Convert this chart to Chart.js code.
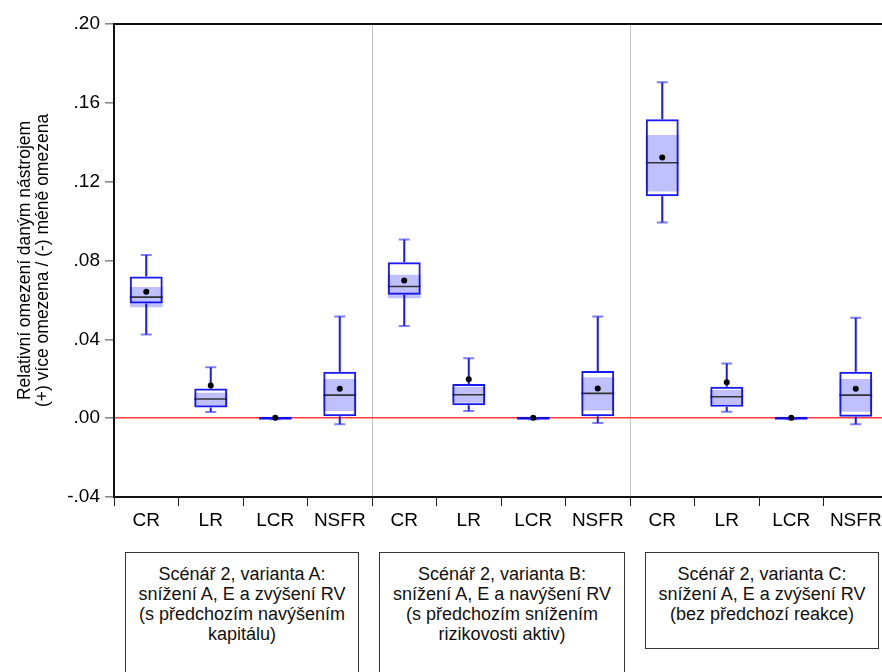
<!DOCTYPE html>
<html>
<head>
<meta charset="utf-8">
<script src="https://cdn.jsdelivr.net/npm/chart.js@4/dist/chart.umd.min.js"></script>
<style>
    html, body { margin: 0; padding: 0; background: #fff; }
    #wrap { position: relative; width: 882px; height: 672px; overflow: hidden; }
    #boxChart { position: absolute; left: 0; top: 0; }
    .note {
        position: absolute; top: 552px; box-sizing: border-box;
        border: 1px solid #333; background: #fff;
        font-family: 'Liberation Sans', Arial, sans-serif; font-size: 18px;
        line-height: 20px; text-align: center; color: #111; padding-top: 11px;
    }
</style>
</head>
<body>
<div id="wrap">
    <canvas id="boxChart" width="900" height="672"></canvas>
    <div class="note" style="left:125px; width:234px; height:140px;">Scénář 2, varianta A:<br>snížení A, E a zvýšení RV<br>(s předchozím navýšením<br>kapitálu)</div>
    <div class="note" style="left:379px; width:246px; height:140px;">Scénář 2, varianta B:<br>snížení A, E a navýšení RV<br>(s předchozím snížením<br>rizikovosti aktiv)</div>
    <div class="note" style="left:645px; width:234px; height:97px;">Scénář 2, varianta C:<br>snížení A, E a zvýšení RV<br>(bez předchozí reakce)</div>
</div>
<script>
const categories = ['CR', 'LR', 'LCR', 'NSFR', 'CR', 'LR', 'LCR', 'NSFR', 'CR', 'LR', 'LCR', 'NSFR'];

// box plot statistics
const whiskerLow  = [0.0424, 0.0031, -0.0006, -0.0031, 0.0468, 0.0036, -0.0006, -0.0024, 0.0993, 0.0032, -0.0006, -0.0031];
const quart1      = [0.0582, 0.0054, -0.0005, 0.0010, 0.0626, 0.0065, -0.0005, 0.0010, 0.1126, 0.0058, -0.0005, 0.0007];
const medians     = [0.0614, 0.0097, -0.0003, 0.0117, 0.0668, 0.0119, -0.0003, 0.0126, 0.1296, 0.0109, -0.0003, 0.0117];
const quart3      = [0.0719, 0.0151, 0.0000, 0.0236, 0.0791, 0.0173, 0.0000, 0.0239, 0.1517, 0.0159, 0.0000, 0.0236];
const whiskerHigh = [0.0828, 0.0258, 0.0001, 0.0516, 0.0906, 0.0304, 0.0001, 0.0516, 0.1704, 0.0278, 0.0001, 0.0509];
const means       = [0.0641, 0.0166, 0.0002, 0.0149, 0.0699, 0.0197, 0.0002, 0.0151, 0.1322, 0.0182, 0.0002, 0.0149];
// shaded median confidence band
const bandLow     = [0.0563, 0.0063, -0.0004, 0.0036, 0.0609, 0.0078, -0.0004, 0.0039, 0.1150, 0.0070, -0.0004, 0.0032];
const bandHigh    = [0.0665, 0.0129, -0.0001, 0.0199, 0.0728, 0.0159, -0.0001, 0.0207, 0.1437, 0.0143, -0.0001, 0.0199];

const yTicks = [-0.04, 0.00, 0.04, 0.08, 0.12, 0.16, 0.20];
const yTitle = ['Relativní omezení daným nástrojem', '(+) více omezena / (-) méně omezena'];

const FONT = "'Liberation Sans', Arial, sans-serif";
const BOX_BLUE = 'rgba(0,0,240,0.9)';
const CAP_BLUE = 'rgba(40,40,255,0.6)';

const fmtTick = (v) => {
    const n = Math.round(Math.abs(v) * 100);
    return (v < 0 ? '-' : '') + '.' + String(n).padStart(2, '0');
};

// median lines go under the box outline, whiskers after it
const boxExtras = {
    id: 'boxExtras',
    afterDatasetDraw(chart, args) {
        const { ctx, scales: { x, y } } = chart;
        const bars = args.meta.data;
        ctx.save();
        if (args.index === 0) {
            ctx.strokeStyle = '#333';
            ctx.lineWidth = 1.6;
            ctx.beginPath();
            categories.forEach((c, i) => {
                // collapsed boxes (LCR) just show as a blue line
                if (y.getPixelForValue(quart1[i]) - y.getPixelForValue(quart3[i]) < 4) return;
                const cx = x.getPixelForValue(i);
                const half = bars[i].width / 2;
                const my = y.getPixelForValue(medians[i]);
                ctx.moveTo(cx - half, my);
                ctx.lineTo(cx + half, my);
            });
            ctx.stroke();
        }
        if (args.index === 1) {
            categories.forEach((c, i) => {
                const cx = x.getPixelForValue(i);
                ctx.lineWidth = 2;
                ctx.strokeStyle = BOX_BLUE;
                ctx.beginPath();
                ctx.moveTo(cx, y.getPixelForValue(quart3[i]));
                ctx.lineTo(cx, y.getPixelForValue(whiskerHigh[i]));
                ctx.moveTo(cx, y.getPixelForValue(quart1[i]));
                ctx.lineTo(cx, y.getPixelForValue(whiskerLow[i]));
                ctx.stroke();
                ctx.strokeStyle = CAP_BLUE;
                ctx.beginPath();
                [whiskerHigh[i], whiskerLow[i]].forEach(v => {
                    const py = y.getPixelForValue(v);
                    ctx.moveTo(cx - 5.5, py);
                    ctx.lineTo(cx + 5.5, py);
                });
                ctx.stroke();
            });
        }
        ctx.restore();
    },
    afterDraw(chart) {
        const { ctx, chartArea } = chart;
        ctx.save();
        ctx.strokeStyle = '#111';
        ctx.lineWidth = 2;
        ctx.beginPath();
        ctx.moveTo(chartArea.left - 1, chartArea.top);
        ctx.lineTo(chartArea.right, chartArea.top);
        ctx.stroke();
        ctx.restore();
    }
};

const ctx = document.getElementById('boxChart').getContext('2d');
new Chart(ctx, {
    type: 'bar',
    data: {
        labels: categories,
        datasets: [
            {
                label: 'band',
                data: bandLow.map((v, i) => [v, bandHigh[i]]),
                backgroundColor: 'rgba(150,150,255,0.6)',
                borderWidth: 0,
                grouped: false,
                barPercentage: 0.51,
                categoryPercentage: 1,
                order: 3
            },
            {
                label: 'box',
                data: quart1.map((v, i) => [v, quart3[i]]),
                backgroundColor: 'rgba(0,0,0,0)',
                borderColor: BOX_BLUE,
                borderWidth: 2,
                borderSkipped: false,
                minBarLength: 3,
                grouped: false,
                barPercentage: 0.51,
                categoryPercentage: 1,
                order: 2
            },
            {
                label: 'mean',
                type: 'line',
                data: means,
                showLine: false,
                pointRadius: 3,
                pointBackgroundColor: '#000',
                pointBorderWidth: 0,
                order: 1
            }
        ]
    },
    options: {
        responsive: false,
        animation: false,
        layout: { padding: { left: 0, top: 24, right: 12, bottom: 135 } },
        plugins: {
            legend: { display: false },
            tooltip: { enabled: false }
        },
        scales: {
            x: {
                offset: true,
                afterFit: (s) => { s.height = 40; },
                border: { display: true, color: '#111', width: 2 },
                grid: {
                    offset: true,
                    color: (c) => (c.index === 4 || c.index === 8) ? '#c4c4c4' : 'rgba(0,0,0,0)',
                    lineWidth: 1,
                    tickColor: '#222',
                    tickLength: 9
                },
                ticks: {
                    color: '#000',
                    padding: 3,
                    maxRotation: 0,
                    autoSkip: false,
                    font: { family: FONT, size: 19 }
                }
            },
            y: {
                min: -0.04,
                max: 0.20,
                afterFit: (s) => { s.width = 114; },
                afterBuildTicks: (s) => { s.ticks = yTicks.map(v => ({ value: v })); },
                border: { display: true, color: '#111', width: 2 },
                grid: {
                    color: (c) => (c.tick && Math.abs(c.tick.value) < 1e-9) ? '#ff3b3b' : 'rgba(0,0,0,0)',
                    lineWidth: 1.6,
                    tickColor: '#888',
                    tickLength: 9
                },
                ticks: {
                    color: '#000',
                    padding: 5,
                    callback: (v) => fmtTick(v),
                    font: { family: FONT, size: 19 }
                },
                title: {
                    display: true,
                    text: yTitle,
                    color: '#000',
                    padding: { top: 16, bottom: 0 },
                    font: { family: FONT, size: 17.5, lineHeight: 1.03 }
                }
            }
        }
    },
    plugins: [boxExtras]
});
</script>
</body>
</html>
